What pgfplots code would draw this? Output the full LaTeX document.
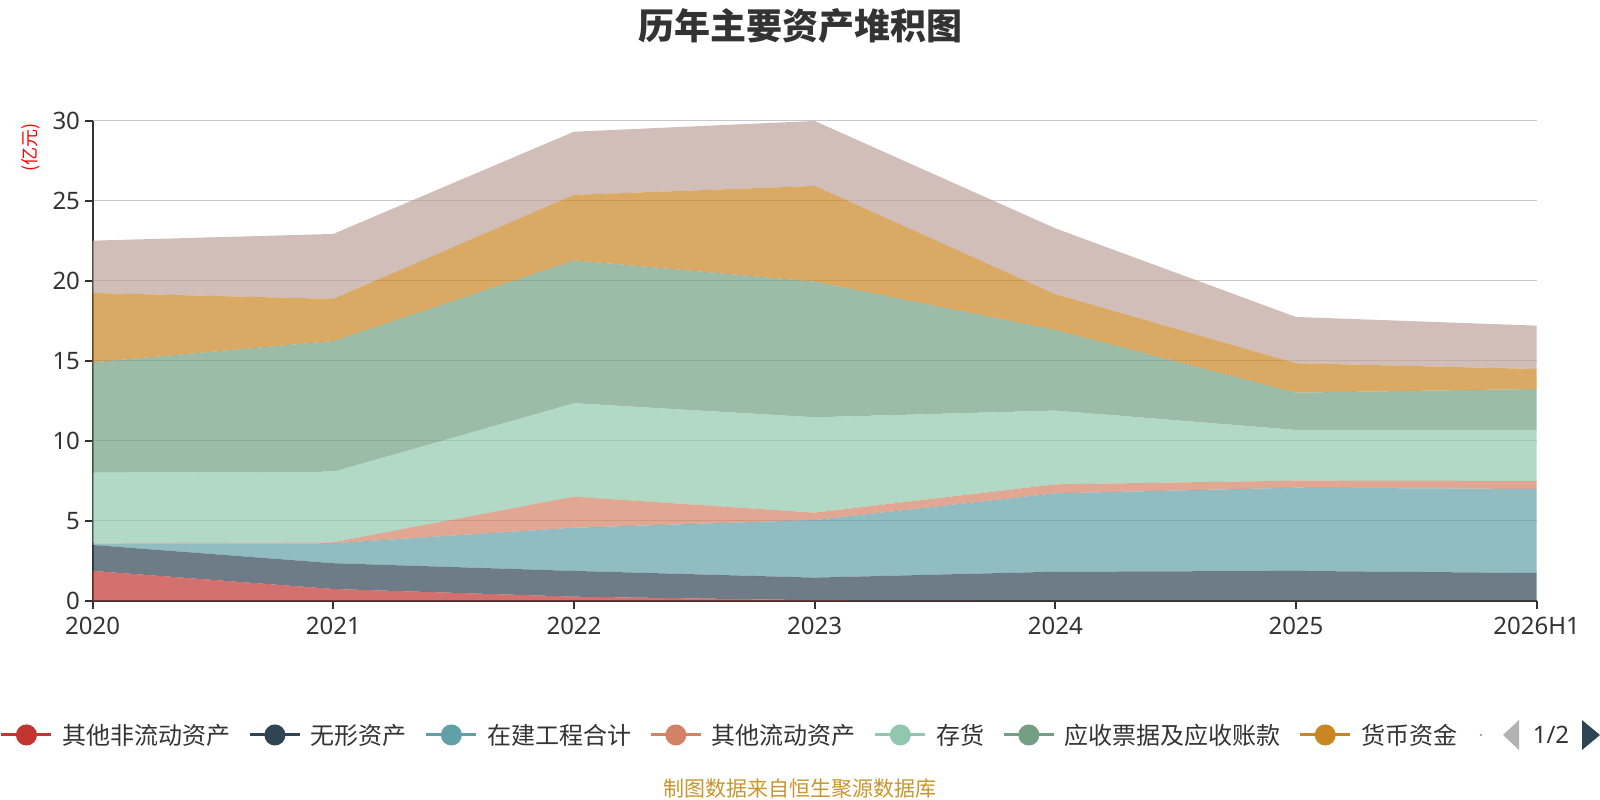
\documentclass[border=0pt]{standalone}
\usepackage{fontspec}
\setmainfont{Noto Sans CJK SC}
\newfontfamily\latinfont{Noto Sans}
\usepackage{pgfplots}
\pgfplotsset{compat=1.18}
\definecolor{c1}{HTML}{C23531}
\definecolor{c2}{HTML}{2F4554}
\definecolor{c3}{HTML}{61A0A8}
\definecolor{c4}{HTML}{D48265}
\definecolor{c5}{HTML}{91C7AE}
\definecolor{c6}{HTML}{749F83}
\definecolor{c7}{HTML}{CA8622}
\definecolor{c8}{HTML}{BDA29A}
\definecolor{axisc}{HTML}{333333}
\definecolor{gridc}{HTML}{C8C8C8}
\definecolor{footc}{HTML}{C9962C}
\pgfplotstableread{
x s1 s2 s3 s4 s5 s6 s7 s8
0 1.86 1.62 0.08 0.02 4.42 6.90 4.33 3.27
1 0.73 1.61 1.25 0.06 4.41 8.17 2.63 4.06
2 0.25 1.61 2.70 1.94 5.84 8.93 4.09 3.95
3 0.03 1.41 3.60 0.46 5.96 8.48 5.98 4.06
4 0.00 1.81 4.90 0.56 4.61 5.04 2.23 4.12
5 0.00 1.86 5.20 0.44 3.17 2.33 1.84 2.89
6 0.00 1.73 5.25 0.49 3.20 2.56 1.25 2.71
}\datatable
\newcommand{\legimg}[1]{\draw[line width=2.25pt, #1, opacity=1] (0pt,0pt) -- (37.5pt,0pt); \fill[#1, opacity=1] (18.75pt,0pt) circle (7.9pt);}
\begin{document}
\begin{tikzpicture}
\useasboundingbox (0,0) rectangle (1200pt,600pt);
\begin{axis}[
  at={(69.5pt,149.5pt)}, anchor=south west,
  scale only axis, width=1083pt, height=360pt,
  xmin=0, xmax=6, ymin=0, ymax=30,
  xtick={0,1,2,3,4,5,6},
  xticklabels={2020,2021,2022,2023,2024,2025,2026H1},
  ytick={0,5,10,15,20,25,30},
  axis x line=bottom, axis y line=left,
  axis line style={-, line width=1.5pt, color=axisc},
  tick align=outside, major tick length=6pt,
  tick style={line width=1.5pt, color=axisc},
  ymajorgrids, grid style={line width=1.2pt, color=gridc},
  ticklabel style={font=\latinfont\fontsize{18}{18}\selectfont, text=axisc},
  xticklabel style={yshift=-3pt},
  /pgf/number format/assume math mode=true,
  stack plots=y,
  ylabel={(亿元)},
  ylabel style={at={(axis description cs:-0.0428,0.945)}, anchor=center, font=\fontsize{13.5}{13.5}\selectfont, text=red},
  legend columns=-1,
  legend style={draw=none, fill=none, inner sep=0pt, outer sep=0pt,
    at={(axis description cs:-0.0642,-0.2798)}, anchor=west,
    font=\fontsize{18}{18}\selectfont, text=axisc,
    nodes={inner sep=0pt},
    /tikz/every odd column/.append style={column sep=7.1pt},
    /tikz/every even column/.append style={column sep=13.5pt}},
]
\addplot[fill=c1, fill opacity=0.7, draw=none, legend image code/.code={\legimg{c1}}] table[x=x,y=s1]{\datatable} \closedcycle;
\addlegendentry{其他非流动资产}
\addplot[fill=c2, fill opacity=0.7, draw=none, legend image code/.code={\legimg{c2}}] table[x=x,y=s2]{\datatable} \closedcycle;
\addlegendentry{无形资产}
\addplot[fill=c3, fill opacity=0.7, draw=none, legend image code/.code={\legimg{c3}}] table[x=x,y=s3]{\datatable} \closedcycle;
\addlegendentry{在建工程合计}
\addplot[fill=c4, fill opacity=0.7, draw=none, legend image code/.code={\legimg{c4}}] table[x=x,y=s4]{\datatable} \closedcycle;
\addlegendentry{其他流动资产}
\addplot[fill=c5, fill opacity=0.7, draw=none, legend image code/.code={\legimg{c5}}] table[x=x,y=s5]{\datatable} \closedcycle;
\addlegendentry{存货}
\addplot[fill=c6, fill opacity=0.7, draw=none, legend image code/.code={\legimg{c6}}] table[x=x,y=s6]{\datatable} \closedcycle;
\addlegendentry{应收票据及应收账款}
\addplot[fill=c7, fill opacity=0.7, draw=none, legend image code/.code={\legimg{c7}}] table[x=x,y=s7]{\datatable} \closedcycle;
\addlegendentry{货币资金}
\addplot[fill=c8, fill opacity=0.7, draw=none] table[x=x,y=s8]{\datatable} \closedcycle;
\end{axis}
\node[font=\bfseries\fontsize{27}{27}\selectfont, text=axisc] at (600pt,580.5pt) {历年主要资产堆积图};
\node[font=\fontsize{15.75}{15.75}\selectfont, text=footc] at (600pt,8.25pt) {制图数据来自恒生聚源数据库};
\fill[c8] (1110pt,48.2pt) rectangle (1111.5pt,49.3pt);
\fill[gray!60] (1127.25pt,48.75pt) -- (1139.25pt,60pt) -- (1139.25pt,37.5pt) -- cycle;
\node[font=\latinfont\fontsize{18}{18}\selectfont, text=axisc] at (1163.25pt,48.75pt) {1/2};
\fill[c2] (1186.5pt,60pt) -- (1200pt,48.75pt) -- (1186.5pt,37.5pt) -- cycle;
\end{tikzpicture}
\end{document}
